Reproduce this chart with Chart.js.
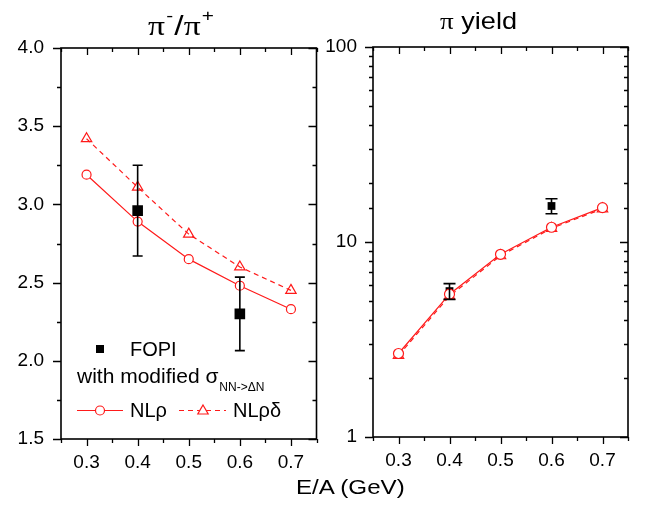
<!DOCTYPE html>
<html>
<head>
<meta charset="utf-8">
<script src="https://cdn.jsdelivr.net/npm/chart.js@4.4.1/dist/chart.umd.min.js"></script>
<style>
  body { margin: 0; background: #fff; font-family: "Liberation Sans", Arial, sans-serif; }
  #wrap { position: relative; width: 649px; height: 506px; overflow: hidden; }
  .box { position: absolute; top: 0; height: 506px; }
  .txt { position: absolute; white-space: nowrap; color: #000; line-height: 1; transform-origin: left top; }
  .pi { font-family: "Liberation Serif", "DejaVu Serif", serif; }
  sup { font-size: 62%; vertical-align: 0; position: relative; top: -0.8em; margin: 0 1px; }
</style>
</head>
<body>
<div id="wrap">
  <div class="box" style="left:0;width:324px"><canvas id="ratioChart"></canvas></div>
  <div class="box" style="left:320px;width:329px"><canvas id="yieldChart"></canvas></div>
  <div class="txt" style="left:148px;top:12px;font-size:28px;transform:scaleX(1.2);"><span class="pi">&pi;</span><sup>-</sup>/<span class="pi">&pi;</span><sup>+</sup></div>
  <div class="txt" style="left:440px;top:9px;font-size:24px;transform:scaleX(1.13);"><span class="pi">&pi;</span> yield</div>
  <div class="txt" style="left:296px;top:476px;font-size:21px;transform:scaleX(1.15);">E/A (GeV)</div>
</div>
<script>
// beam energies (GeV per nucleon)
var energies = [0.3, 0.4, 0.5, 0.6, 0.7];
// pi-/pi+ ratio from the transport calculations
var ratioNLrho = [3.19, 2.89, 2.65, 2.48, 2.33];
var ratioNLrhoDelta = [3.42, 3.11, 2.81, 2.60, 2.45];
// pion yield from the transport calculations
var yieldNLrho = [2.68, 5.40, 8.65, 11.9, 15.0];
var yieldNLrhoDelta = [2.62, 5.28, 8.50, 11.75, 14.8];
// FOPI data
var fopiEnergies = [0.4, 0.6];
var fopiRatio = [2.96, 2.30];
var fopiRatioErr = [0.29, 0.235];
var fopiYield = [5.6, 15.3];
var fopiYieldErr = [0.52, 1.35];
// axis tick labels
var xTickLabels = ['0.3', '0.4', '0.5', '0.6', '0.7'];
var ratioTickLabels = ['1.5', '2.0', '2.5', '3.0', '3.5', '4.0'];
var yieldTickLabels = ['1', '10', '100'];

var RED = '#ff1a1a';
var FONT = "'Liberation Sans', Arial, sans-serif";

function pts(xs, ys) {
    return xs.map(function (x, i) { return { x: x, y: ys[i] }; });
}

// frame box with inward/outward tick marks, major ticks longer
var framePlugin = {
    id: 'frame',
    afterDraw: function (chart) {
        var ctx = chart.ctx, a = chart.chartArea;
        var xs = chart.scales.x, ys = chart.scales.y;
        ctx.save();
        ctx.strokeStyle = '#000';
        ctx.lineWidth = 1.6;
        ctx.strokeRect(a.left, a.top, a.right - a.left, a.bottom - a.top);
        ctx.lineWidth = 1.3;
        ctx.beginPath();
        ys.ticks.forEach(function (t) {
            var y = Math.round(ys.getPixelForValue(t.value)) + 0.5;
            var len = t.label ? 8 : 4;
            ctx.moveTo(a.left - len, y); ctx.lineTo(a.left, y);
            ctx.moveTo(a.right - len, y); ctx.lineTo(a.right, y);
        });
        xs.ticks.forEach(function (t) {
            var x = Math.round(xs.getPixelForValue(t.value)) + 0.5;
            var len = t.label ? 7 : 4;
            ctx.moveTo(x, a.bottom); ctx.lineTo(x, a.bottom + len);
            ctx.moveTo(x, a.top); ctx.lineTo(x, a.top + len);
        });
        ctx.stroke();
        ctx.restore();
    }
};

// vertical error bars for the FOPI points
var errorBarPlugin = {
    id: 'errbars',
    afterDatasetsDraw: function (chart, args, opts) {
        var ctx = chart.ctx, xs = chart.scales.x, ys = chart.scales.y;
        ctx.save();
        ctx.strokeStyle = '#000';
        ctx.lineWidth = 1.6;
        ctx.beginPath();
        opts.x.forEach(function (e, i) {
            var px = xs.getPixelForValue(e);
            var top = ys.getPixelForValue(opts.y[i] + opts.err[i]);
            var bot = ys.getPixelForValue(opts.y[i] - opts.err[i]);
            ctx.moveTo(px, top); ctx.lineTo(px, bot);
            ctx.moveTo(px - opts.cap, top); ctx.lineTo(px + opts.cap, top);
            ctx.moveTo(px - opts.cap, bot); ctx.lineTo(px + opts.cap, bot);
        });
        ctx.stroke();
        ctx.restore();
    }
};

// legend block inside the ratio panel
var legendPlugin = {
    id: 'innerLegend',
    afterDraw: function (chart, args, opts) {
        if (!opts.show) return;
        var ctx = chart.ctx, a = chart.chartArea;
        var x0 = a.left;
        ctx.save();
        ctx.fillStyle = '#000';
        ctx.fillRect(x0 + 35, 345, 8, 8);
        ctx.font = '20px ' + FONT;
        ctx.textBaseline = 'alphabetic';
        ctx.fillText('FOPI', x0 + 69, 356);
        ctx.font = '21px ' + FONT;
        ctx.fillText('with modified \u03c3', x0 + 16, 383);
        var w = ctx.measureText('with modified \u03c3').width;
        ctx.font = '12px ' + FONT;
        ctx.fillText('NN->\u0394N', x0 + 16 + w + 1, 391);
        ctx.font = '20px ' + FONT;
        ctx.fillText('NL\u03c1', x0 + 69, 417);
        ctx.fillText('NL\u03c1\u03b4', x0 + 172, 417);
        // solid line + circle
        ctx.strokeStyle = RED;
        ctx.lineWidth = 1.2;
        ctx.beginPath();
        ctx.moveTo(x0 + 16, 410.5); ctx.lineTo(x0 + 62, 410.5);
        ctx.stroke();
        ctx.fillStyle = '#fff';
        ctx.beginPath(); ctx.arc(x0 + 39, 410.5, 4.5, 0, Math.PI * 2); ctx.fill(); ctx.stroke();
        // dashed line + triangle
        ctx.setLineDash([5, 4]);
        ctx.beginPath();
        ctx.moveTo(x0 + 118, 410.5); ctx.lineTo(x0 + 165, 410.5);
        ctx.stroke();
        ctx.setLineDash([]);
        ctx.beginPath();
        Chart.helpers.drawPoint(ctx, { pointStyle: 'triangle', radius: 6, borderWidth: 1.2 }, x0 + 142, 411);
        ctx.restore();
    }
};

function makeChart(id, cfg) {
    var ctx = document.getElementById(id).getContext('2d');
    return new Chart(ctx, {
        type: 'line',
        data: {
            datasets: [{
                label: 'NLρ',
                data: pts(energies, cfg.solid),
                borderColor: RED,
                borderWidth: 1.2,
                pointStyle: 'circle',
                pointRadius: cfg.circleR,
                pointBackgroundColor: '#fff',
                pointBorderColor: RED,
                pointBorderWidth: 1.2,
                tension: 0
            }, {
                label: 'NLρδ',
                data: pts(energies, cfg.dashed),
                borderColor: RED,
                borderWidth: 1.2,
                borderDash: [5, 4],
                pointStyle: 'triangle',
                pointRadius: cfg.triR,
                pointBackgroundColor: 'rgba(255,255,255,0)',
                pointBorderColor: RED,
                pointBorderWidth: 1.2,
                tension: 0
            }, {
                label: 'FOPI',
                data: pts(fopiEnergies, cfg.fopi),
                showLine: false,
                pointStyle: 'rect',
                pointRadius: cfg.rectR,
                pointBackgroundColor: '#000',
                pointBorderColor: '#000',
                pointBorderWidth: 0
            }]
        },
        options: {
            responsive: true,
            maintainAspectRatio: false,
            animation: false,
            events: [],
            layout: { padding: { top: cfg.padTop, right: cfg.padRight, left: 0, bottom: 0 } },
            plugins: {
                legend: { display: false },
                tooltip: { enabled: false },
                errbars: { x: fopiEnergies, y: cfg.fopi, err: cfg.fopiErr, cap: cfg.cap },
                innerLegend: { show: cfg.legend }
            },
            scales: {
                x: {
                    type: 'linear',
                    min: 0.25, max: 0.75,
                    afterFit: function (s) {
                        s.height = cfg.xHeight;
                        s.paddingLeft = 0;
                        s.paddingRight = 0;
                    },
                    grid: { display: false, drawTicks: false },
                    border: { display: false },
                    ticks: {
                        stepSize: 0.05,
                        autoSkip: false,
                        maxRotation: 0,
                        padding: 12,
                        color: '#000',
                        font: { family: FONT, size: 19 },
                        callback: function (v) {
                            var s = (Math.round(v * 100) / 100).toFixed(1);
                            return (Math.abs(v * 10 - Math.round(v * 10)) < 1e-6 && xTickLabels.indexOf(s) >= 0) ? s : '';
                        }
                    }
                },
                y: cfg.yScale
            }
        },
        plugins: [framePlugin, errorBarPlugin, legendPlugin]
    });
}

makeChart('ratioChart', {
    solid: ratioNLrho, dashed: ratioNLrhoDelta, fopi: fopiRatio, fopiErr: fopiRatioErr,
    circleR: 4.5, triR: 6, rectR: 7.5, cap: 5, legend: true,
    padTop: 48, padRight: 0, xHeight: 67,
    yScale: {
        type: 'linear',
        min: 1.5, max: 4.0,
        afterFit: function (s) { s.width = 61; },
        grid: { display: false, drawTicks: false },
        border: { display: false },
        ticks: {
            stepSize: 0.25,
            autoSkip: false,
            padding: 17,
            color: '#000',
            font: { family: FONT, size: 19 },
            callback: function (v) {
                var s = v.toFixed(1);
                return ratioTickLabels.indexOf(s) >= 0 && Math.abs(v * 2 - Math.round(v * 2)) < 1e-6 ? s : '';
            }
        }
    }
});

makeChart('yieldChart', {
    solid: yieldNLrho, dashed: yieldNLrhoDelta, fopi: fopiYield, fopiErr: fopiYieldErr,
    circleR: 5, triR: 6, rectR: 5.5, cap: 6, legend: false,
    padTop: 47, padRight: 21, xHeight: 69,
    yScale: {
        type: 'logarithmic',
        min: 1, max: 100,
        afterFit: function (s) { s.width = 53; },
        grid: { display: false, drawTicks: false },
        border: { display: false },
        ticks: {
            autoSkip: false,
            padding: 16,
            color: '#000',
            font: { family: FONT, size: 19 },
            callback: function (v) {
                var s = String(Math.round(v));
                return yieldTickLabels.indexOf(s) >= 0 && Math.abs(v - Math.round(v)) < 1e-9 ? s : '';
            }
        }
    }
});
</script>
</body>
</html>
